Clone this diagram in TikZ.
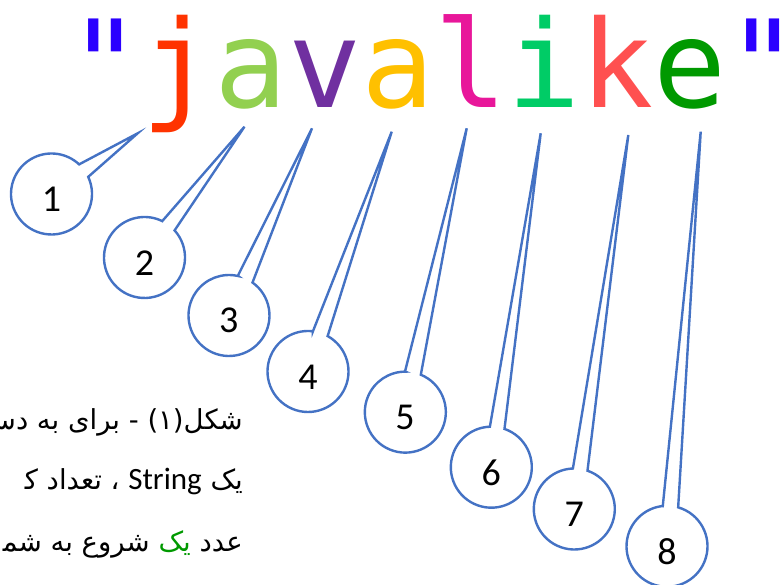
\documentclass[tikz,border=0pt]{standalone}
\usepackage{fontspec}
\setmainfont{Carlito}
\newfontfamily\monofont{DejaVu Sans Mono}[Ligatures=TeXOff]
\newfontfamily\arabicfont[Script=Arabic]{DejaVu Sans}
\newfontfamily\latinfont{Carlito}
\TeXXeTstate=1
\definecolor{qblue}{HTML}{2B00FF}
\definecolor{cj}{HTML}{FF3300}
\definecolor{caone}{HTML}{92D050}
\definecolor{cv}{HTML}{7030A0}
\definecolor{catwo}{HTML}{FFC000}
\definecolor{cl}{HTML}{E8179A}
\definecolor{ci}{HTML}{00CC66}
\definecolor{ck}{HTML}{FF5050}
\definecolor{ce}{HTML}{009900}
\definecolor{pgreen}{HTML}{009900}
\definecolor{calloutblue}{HTML}{4472C4}
\begin{document}
\begin{tikzpicture}[x=1pt,y=1pt,
  ring/.style={circle, minimum size=81pt, inner sep=0pt, outer sep=0pt},
  callout/.style={draw=calloutblue, line width=2.4pt, fill=white},
  num/.style={font=\latinfont\fontsize{38}{38}\selectfont, inner sep=0pt},
  ptext/.style={anchor=base east, inner sep=0pt, font=\arabicfont\fontsize{27.5}{27.5}\selectfont}]
\useasboundingbox (0,0) rectangle (783,585);
\clip (0,0) rectangle (783,585);
% title
\node[anchor=base west, inner sep=0pt, font=\monofont\fontsize{121.5}{121.5}\selectfont] (title) at (68.4,477)
 {\textcolor{qblue}{"}\textcolor{cj}{j}\textcolor{caone}{a}\textcolor{cv}{v}\textcolor{catwo}{a}\textcolor{cl}{l}\textcolor{ci}{i}\textcolor{ck}{k}\textcolor{ce}{e}\textcolor{qblue}{"}};
% callouts
\foreach \i/\cx/\cy/\a/\e/\b/\tx/\ty in {
  1/51.5/391/47/-313/25/137.7/451.7,
  2/144.5/327.5/64/-296/42/244.5/458.3,
  3/228.7/269.7/77/-283/54.5/312/456.7,
  4/308/213.5/83/-277/61/391.7/453.3,
  5/405/173/90/-270/67.5/466.7/456.7,
  6/491.3/117.8/92/-268/71/540.7/451.7,
  7/574.3/76/92/-268/71/628.3/450,
  8/667/38.7/96/-264/74/700.7/453.3}{
  \node[ring] (c\i) at (\cx,\cy) {};
  \coordinate (t\i) at (\tx,\ty);
  \draw[callout] (c\i.\a) -- (t\i) -- (c\i.\b) arc[start angle=\b, end angle=\e, radius=40.5] -- cycle;
  \node[num] (n\i) at ([yshift=-5.5pt]c\i.center) {\i};
}
% Persian caption (clipped at the left edge)
\node[ptext] (line1) at (243,155) {\beginR شکل(۱) - برای به دس‍\endR};
\node[ptext] (line2) at (243,95) {\beginR یک \hbox{\latinfont\fontsize{31}{31}\selectfont String} ، تعداد ک‍\endR};
\node[ptext] (line3a) at (243,33) {\beginR عدد\endR};
\node[ptext, text=pgreen] (line3b) at ([xshift=-8.5pt]line3a.base west) {\beginR یک\endR};
\node[ptext] (line3c) at ([xshift=-8.5pt]line3b.base west) {\beginR شروع به شم‍\endR};
\end{tikzpicture}
\end{document}
